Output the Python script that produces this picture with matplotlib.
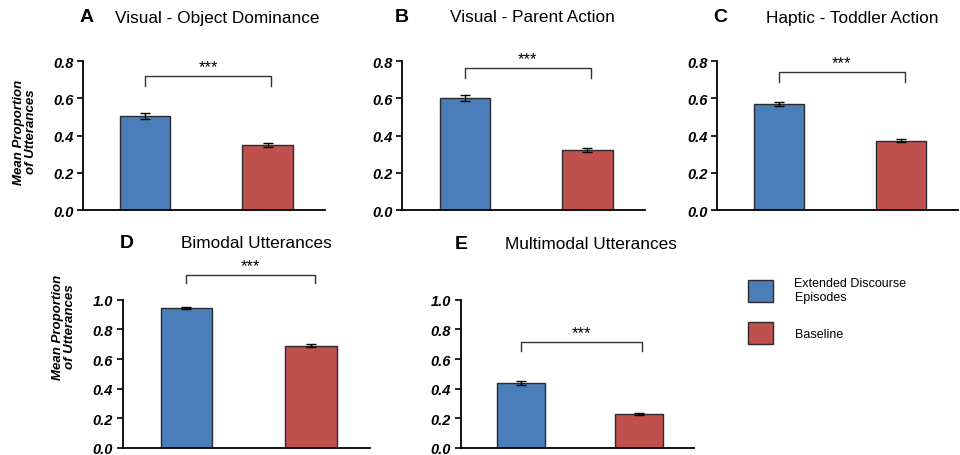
import numpy as np
import matplotlib.pyplot as plt
from matplotlib.patches import Patch

# Data
groups = ['Extended Discourse\nEpisodes', 'Baseline']
panel_letters = ['A', 'B', 'C', 'D', 'E']
panel_titles = ['Visual - Object Dominance', 'Visual - Parent Action', 'Haptic - Toddler Action',
                'Bimodal Utterances', 'Multimodal Utterances']
extended_means = [0.505, 0.600, 0.569, 0.945, 0.440]
extended_err = [0.015, 0.015, 0.013, 0.005, 0.012]
baseline_means = [0.349, 0.323, 0.372, 0.690, 0.230]
baseline_err = [0.010, 0.009, 0.009, 0.010, 0.007]
y_max = [0.8, 0.8, 0.8, 1.0, 1.0]
bracket_y = [0.72, 0.762, 0.74, 1.17, 0.716]
bracket_leg = [0.055, 0.053, 0.05, 0.06, 0.06]

blue = '#4a7ebb'
red = '#c0504d'

fig = plt.figure(figsize=(9.6, 4.56), dpi=100)

# axes boxes [left, bottom, width, height] in figure fraction
boxes = [
    [0.0865, 0.537, 0.252, 0.327],
    [0.419, 0.537, 0.253, 0.327],
    [0.747, 0.537, 0.251, 0.327],
    [0.128, 0.0154, 0.257, 0.325],
    [0.480, 0.0154, 0.243, 0.325],
]

title_font = dict(family='Liberation Sans', size=12.4)
tick_font = dict(family='Liberation Sans', weight='bold', style='italic', size=10.5)

for i in range(5):
    ax = fig.add_axes(boxes[i])
    x = np.arange(2)
    ax.bar(x, [extended_means[i], baseline_means[i]], width=0.41,
           color=[blue, red], edgecolor='#2b2b2b', linewidth=1.0, zorder=2)
    ax.errorbar(x, [extended_means[i], baseline_means[i]], yerr=[extended_err[i], baseline_err[i]],
                fmt='none', ecolor='black', elinewidth=1.0, capsize=3.5, capthick=1.0, zorder=3)
    ax.set_xlim(-0.51, 1.47)
    ax.set_ylim(0, y_max[i])
    ticks = np.arange(0, y_max[i] + 0.001, 0.2)
    ax.set_yticks(ticks)
    ax.set_yticklabels(['%.1f' % t for t in ticks], fontdict=tick_font)
    ax.set_xticks([])
    for s in ['top', 'right']:
        ax.spines[s].set_visible(False)
    ax.spines['left'].set_linewidth(1.3)
    ax.spines['bottom'].set_linewidth(1.3)
    ax.tick_params(axis='y', length=4, width=1.2, pad=3)

    # significance bracket
    by = bracket_y[i]
    leg = bracket_leg[i]
    ax.plot([0.0, 0.0, 1.03, 1.03], [by - leg, by, by, by - leg], color='#333333',
            linewidth=1.0, clip_on=False)
    ax.text(0.515, by + 0.012, '***', ha='center', va='bottom', fontsize=12,
            family='Liberation Sans', clip_on=False)

fig_title_pos = [(80, 18, 115), (395, 18, 450), (713, 18, 766), (120, 243, 181), (455, 245, 505)]
for i, (lx, ty, tx) in enumerate(fig_title_pos):
    fig.text(lx / 960, 1 - ty / 456, panel_letters[i], ha='left', va='center',
             family='Liberation Sans', fontsize=14, fontweight='bold')
    fig.text(tx / 960, 1 - ty / 456, panel_titles[i], ha='left', va='center', **title_font)

ylab_font = dict(family='Liberation Sans', weight='bold', style='italic', size=9.5)
fig.text(25 / 960, 1 - 132 / 456, 'Mean Proportion\nof Utterances', rotation=90,
         ha='center', va='center', linespacing=0.95, **ylab_font)
fig.text(64 / 960, 1 - 327 / 456, 'Mean Proportion\nof Utterances', rotation=90,
         ha='center', va='center', linespacing=0.95, **ylab_font)

# legend
handles = [Patch(facecolor=blue, edgecolor='#2b2b2b', label=groups[0]),
           Patch(facecolor=red, edgecolor='#2b2b2b', label=groups[1])]
fig.legend(handles=handles, loc='upper left', bbox_to_anchor=(737 / 960, 1 - 267 / 456),
           frameon=False, handlelength=2.0, handleheight=2.4, handletextpad=1.7,
           labelspacing=1.5, prop=dict(family='Liberation Sans', size=9))

fig.savefig('out.png', dpi=100)
